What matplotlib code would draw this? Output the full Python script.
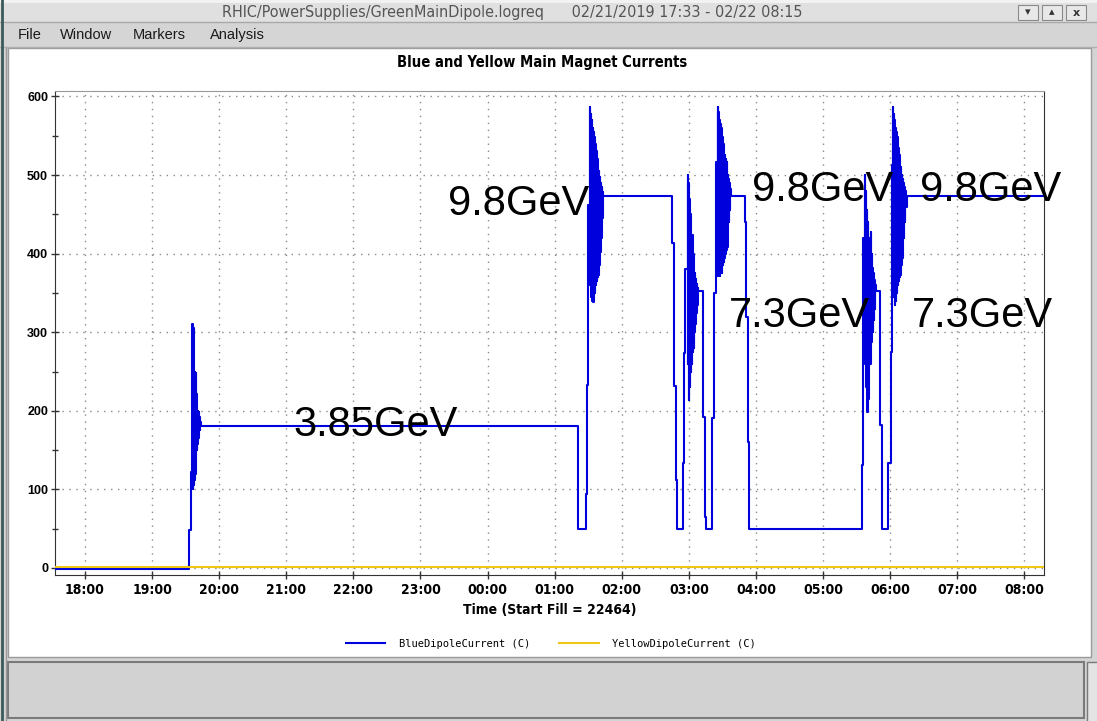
import numpy as np
import matplotlib.pyplot as plt
from matplotlib.patches import Rectangle

# time in minutes after 18:00 (21 Feb 2019), current in A
ramp1_t = [-27.0, 93.0, 93.0, 94.8, 94.8, 95.8, 96.1, 96.4, 96.8, 97.1, 97.5, 97.8, 98.2, 98.5,
           98.9, 99.2, 99.6, 99.9, 100.3, 100.6, 101.0, 101.3, 101.7, 102.0, 102.4, 102.8, 103.2, 103.7]
ramp1_v = [-1.5, -1.5, 48, 48, 122, 122, 311, 100, 305, 105, 300, 112, 250, 120,
           248, 135, 222, 150, 215, 158, 200, 165, 198, 170, 192, 176, 186, 181]

down0_t = [440.6, 440.6, 441.3, 441.3, 448.0, 448.0, 448.6, 448.6, 450.1, 450.1, 451.0, 451.6]
down0_v = [181, 70, 70, 50, 50, 94, 94, 233, 233, 462, 462, 587]

osc98a_t = [452.0, 452.4, 452.8, 453.2, 453.6, 454.0, 454.4, 454.8, 455.2, 455.6, 456.0, 456.4,
            456.8, 457.2, 457.6, 458.0, 458.4, 458.8, 459.2, 459.6, 460.0, 460.4, 460.8, 461.2,
            461.6, 462.0, 462.4, 462.8, 463.2]
osc98a_v = [360, 578, 345, 570, 340, 560, 338, 555, 340, 549, 350, 540,
            360, 530, 365, 520, 370, 515, 373, 505, 385, 498, 402, 490,
            420, 485, 445, 478, 473]

down1_t = [525.2, 525.2, 527.0, 527.0, 528.5, 528.5, 529.4, 529.4, 535.0, 535.0, 536.0, 536.0,
           537.0, 537.0, 538.0, 538.9]
down1_v = [473, 414, 414, 231, 231, 112, 112, 50, 50, 134, 134, 274, 274, 380, 380, 500]

osc73a_t = [539.2, 539.6, 540.1, 540.5, 540.9, 541.3, 541.7, 542.1, 542.5, 543.0, 543.4, 543.8,
            544.2, 544.6, 545.0, 545.4, 545.8, 546.2, 546.6, 547.0, 547.4, 547.8, 548.4]
osc73a_v = [260, 490, 214, 470, 230, 450, 250, 400, 260, 424, 275, 400,
            280, 385, 300, 375, 310, 368, 325, 362, 335, 356, 352]

down2_t = [552.9, 552.9, 554.4, 554.4, 555.0, 555.0, 560.3, 560.3, 562.1, 562.1, 563.9, 563.9,
           565.0, 565.7]
down2_v = [352, 192, 192, 65, 65, 50, 50, 191, 191, 350, 350, 517, 517, 587]

osc98b_t = [566.0, 566.4, 566.8, 567.2, 567.6, 568.0, 568.4, 568.8, 569.3, 569.8, 570.2, 570.6,
            571.0, 571.4, 571.8, 572.2, 572.6, 573.0, 573.4, 573.8, 574.1, 574.6, 575.0, 575.4,
            575.8, 576.2, 576.6, 577.0, 577.7]
osc98b_v = [371, 580, 375, 570, 372, 565, 378, 560, 375, 549, 385, 540,
            390, 530, 395, 525, 400, 520, 405, 517, 409, 500, 420, 495,
            440, 490, 455, 482, 473]

down3_t = [590.2, 590.2, 591.5, 591.5, 592.6, 592.6, 593.8, 593.8, 694.5, 694.5, 695.4, 695.4,
           695.9, 695.9, 697.0, 697.5]
down3_v = [473, 440, 440, 320, 320, 160, 160, 50, 50, 131, 131, 275, 275, 420, 420, 500]

osc73b_t = [697.9, 698.3, 698.7, 699.1, 699.5, 699.9, 700.3, 700.7, 701.1, 701.5, 701.9, 702.6,
            703.0, 703.4, 703.8, 704.2, 704.6, 705.0, 705.4, 705.8, 706.2, 706.6, 707.3]
osc73b_v = [260, 480, 230, 455, 199, 440, 215, 420, 240, 400, 260, 427,
            288, 400, 295, 382, 300, 375, 315, 366, 330, 360, 352]

down4_t = [710.9, 710.9, 712.4, 712.4, 712.9, 712.9, 718.3, 718.3, 720.4, 720.4, 721.9, 721.9, 722.3]
down4_v = [352, 182, 182, 76, 76, 50, 50, 134, 134, 275, 275, 513, 586]

osc98c_t = [722.7, 723.1, 723.5, 723.9, 724.3, 724.7, 725.1, 725.5, 726.0, 726.4, 726.8, 727.2,
            727.6, 728.0, 728.4, 728.8, 729.2, 729.6, 730.0, 730.4, 730.8, 731.2, 731.5, 731.9,
            732.3, 732.7, 733.1, 733.5, 734.0, 734.8, 857.6]
osc98c_v = [360, 578, 345, 570, 335, 560, 340, 555, 350, 549, 360, 535,
            365, 525, 370, 517, 373, 510, 385, 500, 395, 495, 401, 490,
            420, 485, 440, 480, 460, 473, 473]

yellow_t = [-27.0, 857.6]
yellow_v = [1.0, 1.0]

hour_labels = ['18:00', '19:00', '20:00', '21:00', '22:00', '23:00', '00:00', '01:00',
               '02:00', '03:00', '04:00', '05:00', '06:00', '07:00', '08:00']

ann_labels = ['3.85GeV', '9.8GeV', '9.8GeV', '9.8GeV', '7.3GeV', '7.3GeV']
ann_t = [186.0, 324.6, 596.4, 746.7, 575.9, 739.5]
ann_v = [168.2, 449.7, 467.5, 467.5, 307.0, 307.0]

blue_t = (ramp1_t + down0_t + osc98a_t + down1_t + osc73a_t + down2_t + osc98b_t
          + down3_t + osc73b_t + down4_t + osc98c_t)
blue_v = (ramp1_v + down0_v + osc98a_v + down1_v + osc73a_v + down2_v + osc98b_v
          + down3_v + osc73b_v + down4_v + osc98c_v)

W, H = 1097, 721
fig = plt.figure(figsize=(W / 100, H / 100), dpi=100)
fig.patch.set_facecolor('#d4d4d4')

# window chrome drawn in pixel coordinates
bg = fig.add_axes([0, 0, 1, 1])
bg.set_xlim(0, W)
bg.set_ylim(H, 0)
bg.axis('off')

cond = dict(family='DejaVu Sans', fontstretch='condensed')
bg.add_patch(Rectangle((0, 0), W, 22, fc='#e0e0e0', ec='none'))
bg.add_patch(Rectangle((0, 0), W, 3, fc='#f2f2f2', ec='none'))
bg.plot([0, W], [22, 22], color='#a8a8a8', lw=1)
bg.add_patch(Rectangle((0, 23), W, 24, fc='#d5d5d5', ec='none'))
bg.plot([0, W], [47, 47], color='#b0b0b0', lw=1)
bg.add_patch(Rectangle((8, 48), 1083, 609, fc='white', ec='#9a9a9a', lw=1))
bg.add_patch(Rectangle((8, 662), 1076, 56, fc='#d2d2d2', ec='#7a7a7a', lw=1.5))
bg.add_patch(Rectangle((1087, 662), 12, 60, fc='#e4e4e4', ec='#7a7a7a', lw=1))
bg.plot([1.5, 1.5], [0, H], color='#3c5a5a', lw=2)
bg.plot([6, 6], [48, H], color='#9a9a9a', lw=1)

bg.text(512, 13, 'RHIC/PowerSupplies/GreenMainDipole.logreq      02/21/2019 17:33 - 02/22 08:15',
        ha='center', va='center', fontsize=11.5, color='#555555', **cond)
for bx, glyph in zip([1018, 1042, 1066], ['\u25be', '\u25b4', 'x']):
    bg.add_patch(Rectangle((bx, 5), 20, 15, fc='#e8e8e8', ec='#8a8a8a', lw=0.8))
    bg.text(bx + 10, 12.5, glyph, ha='center', va='center', fontsize=8, weight='bold',
            color='#333333')

for mx, item in zip([18, 60, 133, 210], ['File', 'Window', 'Markers', 'Analysis']):
    bg.text(mx, 35, item, ha='left', va='center', fontsize=10.5, color='#1a1a1a',
            family='Liberation Sans')

bg.text(542, 62, 'Blue and Yellow Main Magnet Currents', ha='center', va='center',
        fontsize=10.6, weight='bold', **cond)

# plot area
ax = fig.add_axes([55 / W, (H - 575) / H, 989 / W, 484 / H])
ax.plot(blue_t, blue_v, color='#0000dc', lw=1.5, drawstyle='steps-post',
        label='BlueDipoleCurrent (C)', zorder=3)
ax.plot(yellow_t, yellow_v, color='#f0c814', lw=1.5, label='YellowDipoleCurrent (C)', zorder=4)

ax.set_xlim(-26.8, 857.6)
ax.set_ylim(-9, 607)
ax.set_xticks(60 * np.arange(len(hour_labels)))
ax.set_xticklabels(hour_labels)
ax.set_yticks(np.arange(0, 601, 100))
ax.set_yticks(np.arange(50, 601, 100), minor=True)
ax.grid(True, which='major', color='#8a8a8a', linestyle=(0, (1, 4)), lw=1)
ax.tick_params(which='both', direction='inout', length=6, width=1, color='#333333')
ax.tick_params(axis='y', which='minor', length=5)
ax.tick_params(axis='x', labelsize=10, pad=3)
ax.tick_params(axis='y', labelsize=9, pad=2)
for lab in ax.get_xticklabels():
    lab.set_family('DejaVu Sans')
    lab.set_fontstretch('condensed')
    lab.set_weight('bold')
for lab in ax.get_yticklabels():
    lab.set_family('Liberation Sans')
    lab.set_weight('bold')
for side in ['left', 'bottom', 'right']:
    ax.spines[side].set_color('#333333')
ax.spines['top'].set_color('#9a9a9a')

ax.set_xlabel('Time (Start Fill = 22464)', fontsize=10, weight='bold', labelpad=4, **cond)

for lab, t, v in zip(ann_labels, ann_t, ann_v):
    ax.text(t, v, lab, ha='left', va='baseline', fontsize=30, family='Liberation Sans',
            color='black', clip_on=False, zorder=5)

fig.legend(loc='center', bbox_to_anchor=(551 / W, 1 - 644 / H), ncol=2, frameon=False,
           prop={'family': 'DejaVu Sans Mono', 'size': 7.5}, handlelength=3.8,
           handletextpad=1.3, columnspacing=2.8)

fig.savefig('out.png', dpi=100)
